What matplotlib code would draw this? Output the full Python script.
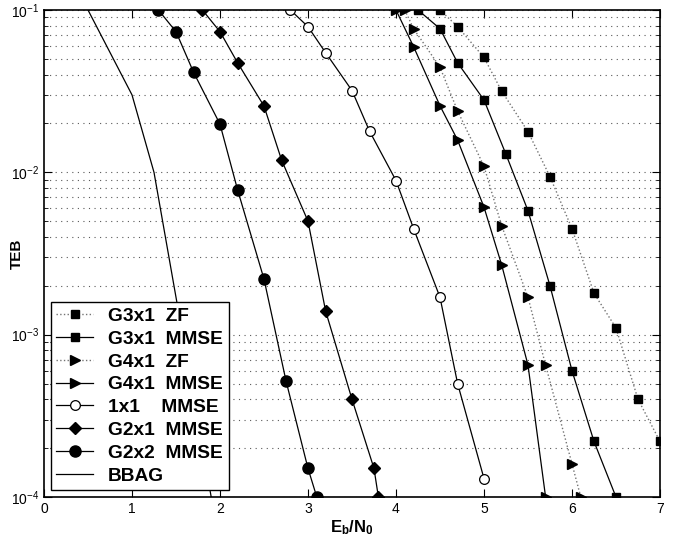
import matplotlib
matplotlib.use("Agg")
import matplotlib.pyplot as plt
from matplotlib.ticker import LogLocator, NullFormatter

plt.rcParams['font.family'] = ['Liberation Sans', 'DejaVu Sans']
plt.rcParams['mathtext.fontset'] = 'custom'
plt.rcParams['mathtext.rm'] = 'Liberation Sans'
plt.rcParams['mathtext.bf'] = 'Liberation Sans:bold'

# data (Eb/N0 in dB, bit error rate)
x_g3x1_zf = [4.5, 4.7, 5.0, 5.2, 5.5, 5.75, 6.0, 6.25, 6.5, 6.75, 7.0]
y_g3x1_zf = [0.1, 0.079, 0.051, 0.0317, 0.0178, 0.0094, 0.0045, 0.0018, 0.0011, 4.0e-4, 2.2e-4]

x_g3x1_mmse = [4.25, 4.5, 4.7, 5.0, 5.25, 5.5, 5.75, 6.0, 6.25, 6.5]
y_g3x1_mmse = [0.1, 0.0767, 0.0473, 0.0279, 0.0129, 0.0058, 0.002, 6.0e-4, 2.2e-4, 1.0e-4]

x_g4x1_zf = [4.1, 4.2, 4.5, 4.7, 5.0, 5.2, 5.5, 5.7, 6.0, 6.1]
y_g4x1_zf = [0.1, 0.0767, 0.0444, 0.0239, 0.0109, 0.0047, 0.0017, 6.5e-4, 1.6e-4, 1.0e-4]

x_g4x1_mmse = [4.0, 4.2, 4.5, 4.7, 5.0, 5.2, 5.5, 5.7]
y_g4x1_mmse = [0.1, 0.0594, 0.0257, 0.0158, 0.0061, 0.0027, 6.5e-4, 1.0e-4]

x_1x1 = [2.8, 3.0, 3.2, 3.5, 3.7, 4.0, 4.2, 4.5, 4.7, 5.0]
y_1x1 = [0.1, 0.0789, 0.0546, 0.0319, 0.0179, 0.0089, 0.0045, 0.0017, 5.0e-4, 1.3e-4]

x_g2x1 = [1.8, 2.0, 2.2, 2.5, 2.7, 3.0, 3.2, 3.5, 3.75, 3.8]
y_g2x1 = [0.1, 0.0735, 0.0473, 0.0256, 0.0119, 0.005, 0.0014, 4.0e-4, 1.5e-4, 1.0e-4]

x_g2x2 = [1.3, 1.5, 1.7, 2.0, 2.2, 2.5, 2.75, 3.0, 3.1]
y_g2x2 = [0.1, 0.0735, 0.0413, 0.0198, 0.0078, 0.0022, 5.2e-4, 1.5e-4, 1.0e-4]

x_bbag = [0.5, 1.0, 1.25, 1.5, 1.9]
y_bbag = [0.1, 0.03, 0.01, 0.0017, 1.0e-4]

fig = plt.figure(figsize=(6.79, 5.49), dpi=100)
ax = fig.add_axes([0.0648, 0.0947, 0.9072, 0.8871])

dot = dict(linestyle=':', color='0.45', linewidth=1.0)
sol = dict(linestyle='-', color='black', linewidth=0.9)

ax.semilogy(x_g3x1_zf, y_g3x1_zf, marker='s', ms=6, mfc='black', mec='black',
            label='G3x1  ZF', **dot)
ax.semilogy(x_g3x1_mmse, y_g3x1_mmse, marker='s', ms=6, mfc='black', mec='black',
            label='G3x1  MMSE', **sol)
ax.semilogy(x_g4x1_zf, y_g4x1_zf, marker='>', ms=7, mfc='black', mec='black',
            label='G4x1  ZF', **dot)
ax.semilogy(x_g4x1_mmse, y_g4x1_mmse, marker='>', ms=7, mfc='black', mec='black',
            label='G4x1  MMSE', **sol)
ax.semilogy(x_1x1, y_1x1, marker='o', ms=7, mfc='white', mec='black', mew=0.9,
            label='1x1    MMSE', **sol)
ax.semilogy(x_g2x1, y_g2x1, marker='D', ms=6, mfc='black', mec='black',
            label='G2x1  MMSE', **sol)
ax.semilogy(x_g2x2, y_g2x2, marker='o', ms=8, mfc='black', mec='black',
            label='G2x2  MMSE', **sol)
ax.semilogy(x_bbag, y_bbag, label='BBAG', **sol)

ax.set_xlim(0, 7)
ax.set_ylim(1e-4, 1e-1)
ax.set_xticks(range(8))
ax.yaxis.set_major_locator(LogLocator(base=10, numticks=10))
ax.yaxis.set_minor_locator(LogLocator(base=10, subs=range(2, 10), numticks=20))
ax.yaxis.set_minor_formatter(NullFormatter())

ax.grid(True, which='both', axis='y', linestyle=(0, (1, 4)), color='0.35', linewidth=0.8)
ax.tick_params(which='both', direction='in', top=True, right=True, labelsize=10)
ax.tick_params(which='major', length=6)
ax.tick_params(which='minor', length=3)
for s in ax.spines.values():
    s.set_linewidth(1.2)

ax.set_xlabel(r'$\mathbf{E_b/N_0}$', fontsize=12, labelpad=2)
ax.set_ylabel('TEB', fontsize=11, fontweight='bold')
ax.yaxis.set_label_coords(-0.032, 0.5)

leg = ax.legend(loc='lower left', prop={'weight': 'bold', 'size': 13.8},
                fancybox=False, edgecolor='black', framealpha=1,
                handlelength=1.9, labelspacing=0.28, borderaxespad=0.35,
                handletextpad=0.8, borderpad=0.3)
leg.get_frame().set_linewidth(1.0)

fig.savefig('out.png', dpi=100)
